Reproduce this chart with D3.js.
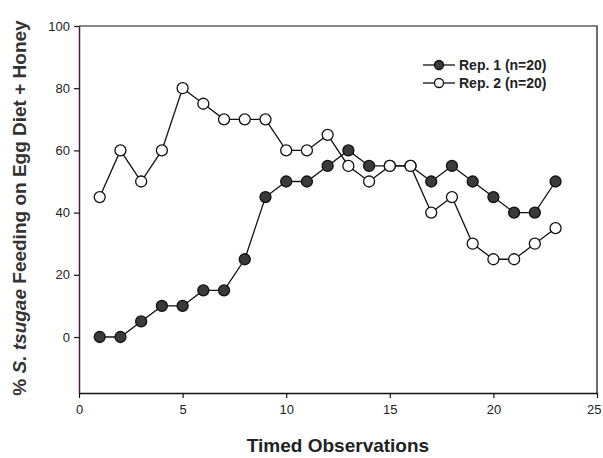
<!DOCTYPE html>
<html>
<head>
<meta charset="utf-8">
<script src="https://cdn.jsdelivr.net/npm/d3@7.9.0/dist/d3.min.js"></script>
<style>
  body { margin: 0; background: #fff; }
  svg { display: block; font-family: 'Liberation Sans', Arial, sans-serif; }
</style>
</head>
<body>
<svg id="chart" width="603" height="458"></svg>
<script>
const observations = d3.range(1, 24);
const rep1 = [0, 0, 5, 10, 10, 15, 15, 25, 45, 50, 50, 55, 60, 55, 55, 55, 50, 55, 50, 45, 40, 40, 50];
const rep2 = [45, 60, 50, 60, 80, 75, 70, 70, 70, 60, 60, 65, 55, 50, 55, 55, 40, 45, 30, 25, 25, 30, 35];
const xTicks = [0, 5, 10, 15, 20, 25];
const yTicks = [0, 20, 40, 60, 80, 100];
const seriesNames = ['Rep. 1 (n=20)', 'Rep. 2 (n=20)'];
const seriesFills = ['#3a3a3a', '#ffffff'];

const svg = d3.select('#chart');
const margin = { top: 26, right: 6, bottom: 65, left: 79 };
const width = 603 - margin.left - margin.right;
const height = 458 - margin.top - margin.bottom;

const x = d3.scaleLinear().domain([0, 25]).range([0, width]);
const y = d3.scaleLinear().domain([-18, 100]).range([height, 0]);

const g = svg.append('g').attr('transform', `translate(${margin.left},${margin.top})`);

// frame (top and right)
g.append('path')
  .attr('d', `M0,0H${width}V${height}`)
  .attr('fill', 'none')
  .attr('stroke', '#111')
  .attr('stroke-width', 1.2);

const xAxis = g.append('g')
  .attr('transform', `translate(0,${height})`)
  .call(d3.axisBottom(x).tickValues(xTicks).tickSize(5).tickPadding(7).tickSizeOuter(0));
xAxis.select('.domain').attr('stroke', '#111').attr('stroke-width', 1.5);

const yAxis = g.append('g')
  .call(d3.axisLeft(y).tickValues(yTicks).tickSize(5).tickPadding(4).tickSizeOuter(0));
yAxis.select('.domain').attr('stroke', '#4a1a3e').attr('stroke-width', 1.5);

[xAxis, yAxis].forEach(ax => {
  ax.selectAll('text').attr('font-size', 13).attr('fill', '#222');
  ax.selectAll('.tick line').attr('stroke', '#111').attr('stroke-width', 1.2);
});
// last x label sits right at the page edge
xAxis.selectAll('.tick text').filter(d => d === 25).attr('text-anchor', 'end').attr('dx', 4);

const line = d3.line().x((d, i) => x(observations[i])).y(d => y(d));

[rep1, rep2].forEach((series, s) => {
  g.append('path')
    .datum(series)
    .attr('d', line)
    .attr('fill', 'none')
    .attr('stroke', '#111')
    .attr('stroke-width', 1.3);
});

[rep1, rep2].forEach((series, s) => {
  g.selectAll(`.pt${s}`)
    .data(series)
    .join('circle')
    .attr('cx', (d, i) => x(observations[i]))
    .attr('cy', d => y(d))
    .attr('r', 5.5)
    .attr('fill', seriesFills[s])
    .attr('stroke', '#111')
    .attr('stroke-width', 1.3);
});

// legend
const legend = g.append('g').attr('transform', 'translate(344,39)');
seriesNames.forEach((name, s) => {
  const row = legend.append('g').attr('transform', `translate(0,${s * 18})`);
  row.append('line').attr('x1', 0).attr('x2', 32).attr('stroke', '#111').attr('stroke-width', 1.3);
  row.append('circle').attr('cx', 16).attr('r', 4.5)
    .attr('fill', seriesFills[s]).attr('stroke', '#111').attr('stroke-width', 1.3);
  row.append('text').attr('x', 36).attr('dy', '0.35em')
    .attr('font-size', 14).attr('font-weight', 'bold').attr('fill', '#222')
    .text(name);
});

// axis titles
svg.append('text')
  .attr('x', margin.left + x(12.5))
  .attr('y', 452)
  .attr('text-anchor', 'middle')
  .attr('font-size', 19)
  .attr('font-weight', 'bold')
  .attr('fill', '#222')
  .text('Timed Observations');

const yTitle = svg.append('text')
  .attr('transform', `translate(26,${208}) rotate(-90)`)
  .attr('text-anchor', 'middle')
  .attr('font-size', 19)
  .attr('font-weight', 'bold')
  .attr('fill', '#333');
yTitle.append('tspan').text('% ');
yTitle.append('tspan').attr('font-style', 'italic').text('S. tsugae');
yTitle.append('tspan').text(' Feeding on Egg Diet + Honey');
</script>
</body>
</html>
